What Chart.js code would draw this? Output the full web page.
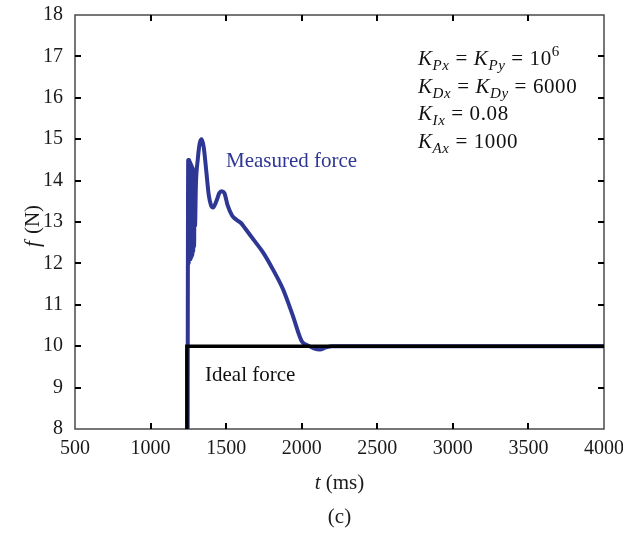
<!DOCTYPE html>
<html>
<head>
<meta charset="utf-8">
<script src="https://cdn.jsdelivr.net/npm/chart.js@4/dist/chart.umd.min.js"></script>
<style>
  html, body { margin: 0; padding: 0; background: #ffffff; }
  #wrap { width: 623px; height: 536px; }
</style>
</head>
<body>
<div id="wrap"><canvas id="c" width="623" height="536"></canvas></div>
<script>
// Axis ticks
const xTicks = [500, 1000, 1500, 2000, 2500, 3000, 3500, 4000];
const yTicks = [8, 9, 10, 11, 12, 13, 14, 15, 16, 17, 18];

// Ideal (reference) force step, t in ms, f in N
const idealT = [1240, 1240, 4000];
const idealF = [0, 10, 10];

// Measured contact force (impact chatter, overshoot, then settling)
const measuredT = [1243, 1246, 1249, 1252, 1255, 1258, 1261, 1264, 1267, 1270, 1273, 1276, 1279, 1282, 1285,
  1288, 1291, 1294, 1300, 1312, 1325, 1338,
  1352, 1368, 1385, 1400, 1413, 1435, 1455, 1470, 1488, 1510, 1540, 1570, 1600, 1625, 1680, 1745, 1810,
  1877, 1940, 2000, 2040, 2080, 2120, 2160, 2200, 2400, 4000];
const measuredF = [0, 10, 14.5, 12.0, 14.5, 12.1, 14.45, 12.1, 14.4, 12.15, 14.35, 12.2, 14.3, 12.3, 14.2,
  12.4, 14.1, 12.9, 13.9, 14.5, 14.9, 15.0,
  14.8, 14.25, 13.65, 13.4, 13.35, 13.5, 13.7, 13.74, 13.7, 13.4, 13.15, 13.05, 12.97, 12.85, 12.58, 12.26, 11.85,
  11.37, 10.75, 10.12, 10.02, 9.95, 9.92, 9.97, 10.0, 10.0, 10.0];

const SERIF = '"Liberation Serif", "Times New Roman", serif';
const BLUE = '#2f3794';

function pts(xs, ys) { return xs.map((x, i) => ({ x: x, y: ys[i] })); }

// Draws a run of text pieces (italic, sub/superscript) starting at x on a baseline y
function drawRuns(ctx, x, y, runs) {
  ctx.textBaseline = 'alphabetic';
  ctx.textAlign = 'left';
  for (const r of runs) {
    const size = r.size || 21;
    ctx.font = (r.italic ? 'italic ' : '') + size + 'px ' + SERIF;
    ctx.fillText(r.t, x, y + (r.dy || 0));
    x += ctx.measureText(r.t).width + (r.kern || 0);
  }
  return x;
}

function runsWidth(ctx, runs) {
  let w = 0;
  for (const r of runs) {
    ctx.font = (r.italic ? 'italic ' : '') + (r.size || 21) + 'px ' + SERIF;
    w += ctx.measureText(r.t).width + (r.kern || 0);
  }
  return w;
}

const framePlugin = {
  id: 'frame',
  beforeDatasetsDraw(chart) {
    const { ctx, chartArea: a, scales } = chart;
    ctx.save();
    ctx.strokeStyle = '#4a4a4a';
    ctx.lineWidth = 1.5;
    ctx.strokeRect(a.left, a.top, a.right - a.left, a.bottom - a.top);
    // inward tick marks on all four sides
    ctx.strokeStyle = '#000';
    ctx.lineWidth = 2;
    const len = 6;
    ctx.beginPath();
    for (const v of xTicks.slice(1, -1)) {
      const px = Math.round(scales.x.getPixelForValue(v));
      ctx.moveTo(px, a.bottom); ctx.lineTo(px, a.bottom - len);
      ctx.moveTo(px, a.top); ctx.lineTo(px, a.top + len);
    }
    for (const v of yTicks.slice(1, -1)) {
      const py = Math.round(scales.y.getPixelForValue(v));
      ctx.moveTo(a.left, py); ctx.lineTo(a.left + len, py);
      ctx.moveTo(a.right, py); ctx.lineTo(a.right - len, py);
    }
    ctx.stroke();
    ctx.restore();
  },
  afterDraw(chart) {
    const { ctx, chartArea: a } = chart;
    ctx.save();
    ctx.fillStyle = '#1a1a1a';
    const cx = (a.left + a.right) / 2;
    // x-axis title
    const parts = [{ t: 't', italic: true }, { t: ' (ms)' }];
    drawRuns(ctx, cx - runsWidth(ctx, parts) / 2, 489, parts);
    // panel label
    const lab = [{ t: '(c)' }];
    drawRuns(ctx, cx - runsWidth(ctx, lab) / 2, 523, lab);
    // y-axis title, rotated
    ctx.save();
    ctx.translate(39, 226);
    ctx.rotate(-Math.PI / 2);
    const yparts = [{ t: 'f', italic: true, kern: 2 }, { t: ' (N)' }];
    drawRuns(ctx, -runsWidth(ctx, yparts) / 2, 0, yparts);
    ctx.restore();

    // series labels
    ctx.fillStyle = BLUE;
    drawRuns(ctx, 226, 167, [{ t: 'Measured force' }]);
    ctx.fillStyle = '#111';
    drawRuns(ctx, 205, 381, [{ t: 'Ideal force' }]);

    // controller gains
    ctx.letterSpacing = '0.6px';
    const sub = (t) => ({ t: t, italic: true, size: 15, dy: 5 });
    const K = { t: 'K', italic: true };
    const eq = (t) => ({ t: ' = ' + t });
    drawRuns(ctx, 418, 65, [K, sub('Px'), eq(''), K, sub('Py'), eq('10'), { t: '6', size: 15, dy: -9 }]);
    drawRuns(ctx, 418, 93, [K, sub('Dx'), eq(''), K, sub('Dy'), eq('6000')]);
    drawRuns(ctx, 418, 120, [K, sub('Ix'), eq('0.08')]);
    drawRuns(ctx, 418, 148, [K, sub('Ax'), eq('1000')]);
    ctx.restore();
  }
};

new Chart(document.getElementById('c'), {
  type: 'line',
  data: {
    datasets: [
      {
        label: 'Ideal force',
        data: pts(idealT, idealF),
        borderColor: '#000',
        borderWidth: 3.5,
        pointRadius: 0,
        tension: 0,
        order: 0,
        clip: { left: 0, top: 0, right: 3, bottom: 0 }
      },
      {
        label: 'Measured force',
        data: pts(measuredT, measuredF),
        borderColor: BLUE,
        borderWidth: 4,
        pointRadius: 0,
        cubicInterpolationMode: 'monotone',
        order: 1,
        clip: { left: 0, top: 0, right: 3, bottom: 0 }
      }
    ]
  },
  options: {
    responsive: false,
    animation: false,
    layout: { padding: { top: 15, right: 19, left: 0, bottom: 0 } },
    plugins: { legend: { display: false }, tooltip: { enabled: false } },
    scales: {
      x: {
        type: 'linear',
        min: 500, max: 4000,
        afterBuildTicks: (s) => { s.ticks = xTicks.map(v => ({ value: v })); },
        afterFit: (s) => { s.height = 107; s.paddingLeft = 0; s.paddingRight = 0; },
        grid: { display: false, drawTicks: false },
        border: { display: false },
        ticks: {
          padding: 8, color: '#1a1a1a', font: { family: SERIF, size: 20 }, maxRotation: 0, autoSkip: false,
          callback: (v) => String(v)
        }
      },
      y: {
        type: 'linear',
        min: 8, max: 18,
        afterBuildTicks: (s) => { s.ticks = yTicks.map(v => ({ value: v })); },
        afterFit: (s) => { s.width = 75; s.paddingTop = 0; s.paddingBottom = 0; },
        grid: { display: false, drawTicks: false },
        border: { display: false },
        ticks: {
          padding: 12, color: '#1a1a1a', font: { family: SERIF, size: 20 }, autoSkip: false,
          callback: (v) => String(v)
        }
      }
    }
  },
  plugins: [framePlugin]
});
</script>
</body>
</html>
